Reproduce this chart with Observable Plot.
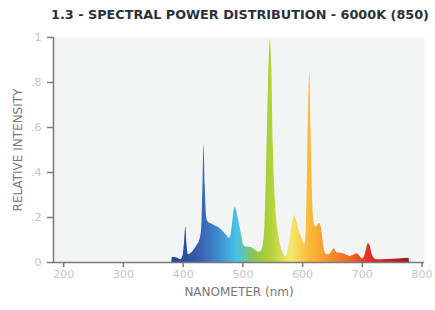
<!DOCTYPE html>
<html>
<head>
<meta charset="utf-8">
<script src="https://cdn.jsdelivr.net/npm/d3@7"></script>
<script src="https://cdn.jsdelivr.net/npm/@observablehq/plot@0.6"></script>
<style>
  body { margin: 0; background: #fff; width: 435px; height: 310px; overflow: hidden; }
  #title { height: 28px; line-height: 29px; text-align: center; font-family: "DejaVu Sans", sans-serif; font-weight: bold; font-size: 12.8px; color: #2b313c; padding-left: 45px; white-space: nowrap; }
  svg [aria-label="x-axis label"] text, svg [aria-label="y-axis label"] text { font-size: 12px; fill: #777; }
</style>
</head>
<body>
<div id="title">1.3 - SPECTRAL POWER DISTRIBUTION - 6000K (850)</div>
<div id="chart"></div>
<script>
// Wavelengths (nm) and relative intensity
const wavelength = [381, 382, 390, 396, 400, 402, 404.5, 406.5, 409, 413, 418, 423, 428, 431, 433, 435, 437, 439.5, 442, 447, 452, 458, 463, 468, 473, 477, 480, 483, 486.5, 489, 492, 495, 498, 501, 504, 510, 516, 521, 526, 530, 534, 537, 540, 543, 546, 548.5, 551, 554, 557, 560, 564, 568, 572, 575, 578, 582, 587, 590, 594, 598, 602, 604, 606, 608, 610, 612, 614, 616.5, 619, 622, 625, 628, 631, 634, 637, 641, 645, 648, 653, 657, 662, 667, 672, 680, 686, 691, 696, 700, 704, 707, 710, 713, 716, 720, 725, 740, 760, 778, 779];
const intensity  = [0, 0.022, 0.02, 0.012, 0.03, 0.08, 0.158, 0.08, 0.035, 0.04, 0.055, 0.075, 0.10, 0.15, 0.32, 0.524, 0.34, 0.20, 0.18, 0.172, 0.165, 0.158, 0.148, 0.135, 0.12, 0.107, 0.12, 0.18, 0.243, 0.235, 0.20, 0.16, 0.12, 0.08, 0.07, 0.068, 0.065, 0.055, 0.046, 0.048, 0.075, 0.17, 0.46, 0.79, 0.99, 0.86, 0.52, 0.29, 0.18, 0.12, 0.068, 0.04, 0.024, 0.04, 0.09, 0.16, 0.209, 0.185, 0.142, 0.115, 0.085, 0.08, 0.15, 0.40, 0.70, 0.846, 0.60, 0.30, 0.18, 0.157, 0.165, 0.175, 0.16, 0.10, 0.05, 0.034, 0.036, 0.045, 0.061, 0.045, 0.042, 0.04, 0.035, 0.027, 0.033, 0.039, 0.028, 0.016, 0.03, 0.06, 0.083, 0.075, 0.04, 0.018, 0.012, 0.013, 0.016, 0.019, 0];
const xTicks = [200, 300, 400, 500, 600, 700, 800];
const yTicks = [0, 0.2, 0.4, 0.6, 0.8, 1];

// Spectral gradient (style)
const gradNm = [380, 420, 450, 490, 520, 548, 580, 610, 645, 680, 710, 778];
const gradColor = ["#2c3f93", "#3557a8", "#3c7cc4", "#46c2ec", "#8fc64c", "#b3d236", "#f3e96e", "#fbbc3c", "#f5922a", "#ee6a24", "#e4302a", "#9d1a2a"];

const data = wavelength.map((nm, i) => ({nm, v: intensity[i]}));

const plot = Plot.plot({
  width: 435,
  height: 282,
  marginTop: 9,
  marginBottom: 48,
  marginLeft: 53,
  marginRight: 11,
  style: {fontFamily: "DejaVu Sans, sans-serif", fontSize: "11px", background: "transparent"},
  x: {domain: [183, 804], ticks: xTicks, label: "NANOMETER (nm)"},
  y: {domain: [0, 1], ticks: yTicks, label: "RELATIVE INTENSITY"},
  marks: [
    Plot.frame({fill: "#f3f5f5", stroke: null}),
    Plot.areaY(data, {x: "nm", y: "v", fill: "url(#spd)", curve: "monotone-x"}),
    Plot.ruleY([0], {stroke: "#7a7a7a", strokeWidth: 1.5}),
    Plot.ruleX([183], {stroke: "#7a7a7a", strokeWidth: 1.5}),
    Plot.axisX({ticks: xTicks, tickSize: 5, tickPadding: 3, stroke: "#7a7a7a", strokeWidth: 1.5, color: "#c4c4c4",
      label: "NANOMETER (nm)", labelAnchor: "center", labelArrow: false, labelOffset: 33}),
    Plot.axisY({ticks: yTicks, tickSize: 6, tickPadding: 6, stroke: "#7a7a7a", strokeWidth: 1.5, color: "#c4c4c4",
      tickFormat: d => d === 0 ? "0" : d === 1 ? "1" : String(d).replace("0.", "."),
      label: "RELATIVE INTENSITY", labelAnchor: "center", labelArrow: false, labelOffset: 40})
  ]
});

const xs = plot.scale("x");
const svgNS = "http://www.w3.org/2000/svg";
const defs = document.createElementNS(svgNS, "defs");
const lg = document.createElementNS(svgNS, "linearGradient");
lg.setAttribute("id", "spd");
lg.setAttribute("gradientUnits", "userSpaceOnUse");
lg.setAttribute("x1", xs.apply(gradNm[0]));
lg.setAttribute("x2", xs.apply(gradNm[gradNm.length - 1]));
lg.setAttribute("y1", 0);
lg.setAttribute("y2", 0);
const span = gradNm[gradNm.length - 1] - gradNm[0];
gradNm.forEach((nm, i) => {
  const s = document.createElementNS(svgNS, "stop");
  s.setAttribute("offset", (nm - gradNm[0]) / span);
  s.setAttribute("stop-color", gradColor[i]);
  lg.appendChild(s);
});
defs.appendChild(lg);
plot.insertBefore(defs, plot.firstChild);
document.getElementById("chart").appendChild(plot);
</script>
</body>
</html>
